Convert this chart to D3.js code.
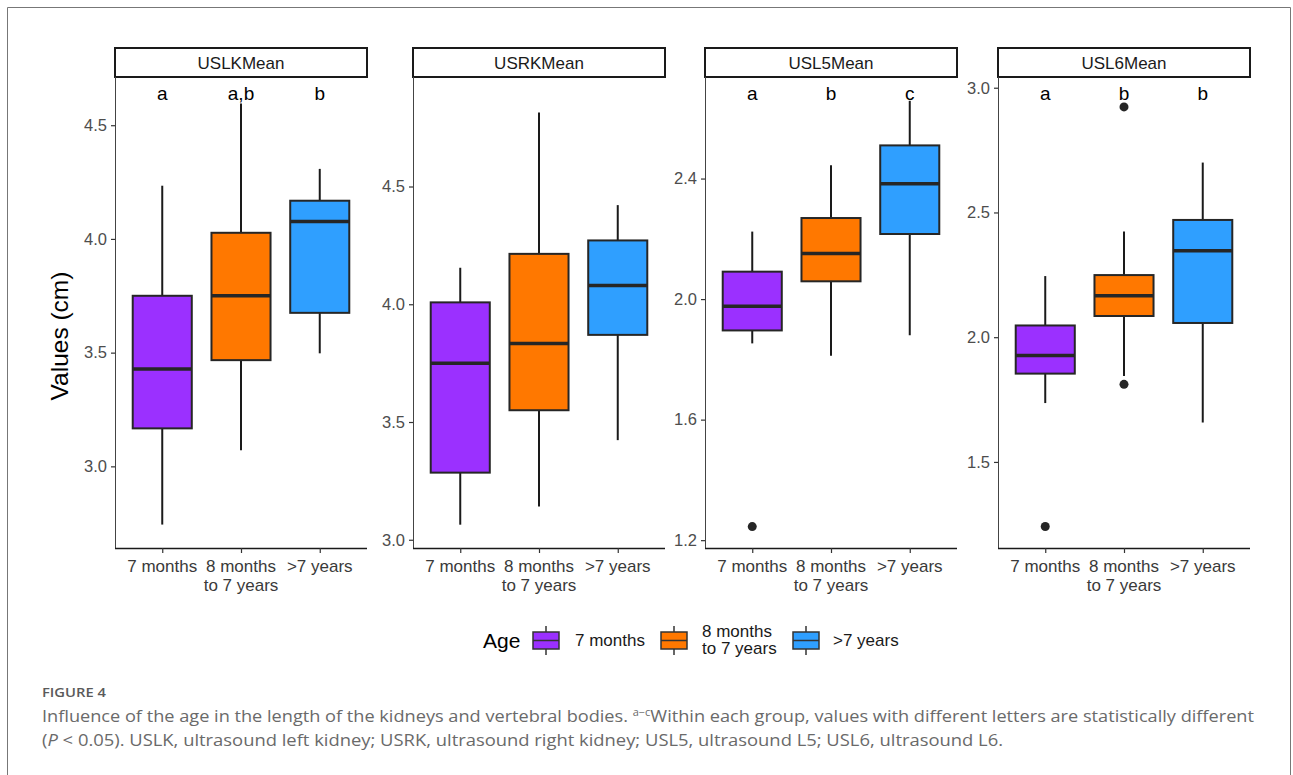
<html>
  <head>
    <meta charset="UTF-8" />
    <script src="https://d3js.org/d3.v7.min.js"></script>
    <style>
      body { margin: 0; background: white; }
    </style>
  </head>
  <body>
    <svg id="svg"></svg>
    <script>
      // groups and colours
      var groups = ["7 months", "8 months\nto 7 years", ">7 years"];
      var groupColors = ["#9b30ff", "#ff7800", "#2f9fff"];
      var legendLabels = ["7 months", "8 months\nto 7 years", ">7 years"];

      var panelNames = ["USLKMean", "USRKMean", "USL5Mean", "USL6Mean"];

      // y limits of each panel (bottom, top) and ticks
      var yLimits = [[2.641, 4.712], [2.965, 4.965], [1.174, 2.737], [1.155, 3.043]];
      var yTicks = [[3.0, 3.5, 4.0, 4.5], [3.0, 3.5, 4.0, 4.5], [1.2, 1.6, 2.0, 2.4], [1.5, 2.0, 2.5, 3.0]];

      // box stats per group: [lower whisker, q1, median, q3, upper whisker]
      var uslk = [[2.744, 3.167, 3.428, 3.75, 4.234], [3.071, 3.467, 3.75, 4.027, 4.596], [3.497, 3.675, 4.077, 4.168, 4.308]];
      var usrk = [[3.064, 3.285, 3.75, 4.008, 4.155], [3.141, 3.55, 3.833, 4.214, 4.814], [3.423, 3.87, 4.08, 4.271, 4.421]];
      var usl5 = [[1.853, 1.896, 1.976, 2.091, 2.224], [1.812, 2.059, 2.151, 2.269, 2.444], [1.88, 2.216, 2.383, 2.51, 2.658]];
      var usl6 = [[1.736, 1.854, 1.927, 2.047, 2.245], [1.844, 2.085, 2.166, 2.249, 2.424], [1.658, 2.057, 2.347, 2.47, 2.70]];
      var panelStats = [uslk, usrk, usl5, usl6];

      // outliers per panel, per group
      var panelOutliers = [
        [[], [], []],
        [[], [], []],
        [[1.245], [], []],
        [[1.241], [2.923, 1.811], []],
      ];

      // significance letters
      var panelLetters = [["a", "a,b", "b"], ["", "", ""], ["a", "b", "c"], ["a", "b", "b"]];

      var width = 1293, height = 775;
      var font = "'Liberation Sans', Arimo, Arial, sans-serif";
      var svg = d3.select("#svg").attr("width", width).attr("height", height)
        .style("font-family", font);

      // outer frame
      svg.append("path")
        .attr("d", "M7.5,780V7.5H1290.5V780")
        .attr("fill", "none").attr("stroke", "#777").attr("stroke-width", 1);

      var panelLeft = [115, 413, 705, 998],
        panelWidth = 252,
        plotTop = 77,
        plotBottom = 548,
        stripTop = 48;

      panelNames.forEach(function (name, p) {
        var x0 = panelLeft[p];
        var g = svg.append("g");

        var x = d3.scalePoint().domain(groups).range([x0, x0 + panelWidth]).padding(0.6);
        var y = d3.scaleLinear().domain(yLimits[p]).range([plotBottom, plotTop]);
        var bw = x.step() * 0.75;

        // strip
        g.append("rect")
          .attr("x", x0).attr("y", stripTop)
          .attr("width", panelWidth).attr("height", plotTop - stripTop)
          .attr("fill", "white").attr("stroke", "#1a1a1a").attr("stroke-width", 2);
        g.append("text")
          .attr("x", x0 + panelWidth / 2).attr("y", 68.5)
          .attr("text-anchor", "middle").style("font-size", "17px").attr("fill", "#1a1a1a")
          .text(name);

        // y axis
        var yAxis = g.append("g").attr("transform", "translate(" + x0 + ",0)")
          .call(d3.axisLeft(y).tickValues(yTicks[p]).tickFormat(d3.format(".1f")).tickSize(4).tickPadding(4));
        yAxis.select(".domain").attr("stroke", "#444").attr("d", "M0.5," + plotTop + "V" + (plotBottom + 0.5));
        yAxis.selectAll(".tick line").attr("stroke", "#333").attr("stroke-width", 1.2);
        yAxis.selectAll("text").style("font-size", "16.5px").attr("fill", "#4d4d4d").style("font-family", font);

        // x axis
        var xAxis = g.append("g").attr("transform", "translate(0," + plotBottom + ")")
          .call(d3.axisBottom(x).tickSize(5).tickFormat(""));
        xAxis.select(".domain").attr("stroke", "#1a1a1a").attr("stroke-width", 1.5)
          .attr("d", "M" + x0 + ",0.5H" + (x0 + panelWidth));
        xAxis.selectAll(".tick line").attr("stroke", "#333").attr("stroke-width", 1.2);
        groups.forEach(function (grp) {
          var lines = grp.split("\n");
          var t = g.append("text").attr("text-anchor", "middle")
            .style("font-size", "17px").attr("fill", "#3a3a3a");
          lines.forEach(function (ln, i) {
            t.append("tspan").attr("x", x(grp)).attr("y", 572 + i * 18.5).text(ln);
          });
        });

        // boxes
        panelStats[p].forEach(function (s, i) {
          var cx = x(groups[i]);
          g.append("line").attr("x1", cx).attr("x2", cx)
            .attr("y1", y(s[0])).attr("y2", y(s[1]))
            .attr("stroke", "#1a1a1a").attr("stroke-width", 2);
          g.append("line").attr("x1", cx).attr("x2", cx)
            .attr("y1", y(s[3])).attr("y2", y(s[4]))
            .attr("stroke", "#1a1a1a").attr("stroke-width", 2);
          g.append("rect")
            .attr("x", cx - bw / 2).attr("width", bw)
            .attr("y", y(s[3])).attr("height", y(s[1]) - y(s[3]))
            .attr("fill", groupColors[i]).attr("stroke", "#262626").attr("stroke-width", 2);
          g.append("line").attr("x1", cx - bw / 2).attr("x2", cx + bw / 2)
            .attr("y1", y(s[2])).attr("y2", y(s[2]))
            .attr("stroke", "#262626").attr("stroke-width", 3.5);
          panelOutliers[p][i].forEach(function (o) {
            g.append("circle").attr("cx", cx).attr("cy", y(o)).attr("r", 4.5).attr("fill", "#262626");
          });
          g.append("text").attr("x", cx).attr("y", 100)
            .attr("text-anchor", "middle").style("font-size", "19px").attr("fill", "black")
            .text(panelLetters[p][i]);
        });
      });

      // y title
      svg.append("text")
        .attr("transform", "translate(68,336) rotate(-90)")
        .attr("text-anchor", "middle").style("font-size", "24.5px").attr("fill", "black")
        .text("Values (cm)");

      // legend
      var legend = svg.append("g");
      legend.append("text").attr("x", 483).attr("y", 648)
        .style("font-size", "21px").attr("fill", "black").text("Age");
      var keyX = [533, 661, 793], textX = [575, 702, 833];
      legendLabels.forEach(function (lab, i) {
        var k = legend.append("g").attr("transform", "translate(" + keyX[i] + ",0)");
        k.append("line").attr("x1", 13).attr("x2", 13).attr("y1", 626).attr("y2", 655)
          .attr("stroke", "#333").attr("stroke-width", 1.5);
        k.append("rect").attr("x", 0).attr("y", 632).attr("width", 26).attr("height", 17)
          .attr("fill", groupColors[i]).attr("stroke", "#333").attr("stroke-width", 1.5);
        k.append("line").attr("x1", 0).attr("x2", 26).attr("y1", 640.5).attr("y2", 640.5)
          .attr("stroke", "#333").attr("stroke-width", 1.5);
        var lines = lab.split("\n");
        var t = legend.append("text").style("font-size", "17px").attr("fill", "#1a1a1a");
        lines.forEach(function (ln, j) {
          t.append("tspan").attr("x", textX[i])
            .attr("y", lines.length === 1 ? 646 : 637 + j * 17).text(ln);
        });
      });

      // caption
      var cap = svg.append("g").style("font-family", "'Open Sans', 'Noto Sans', sans-serif");
      cap.append("text").attr("x", 42).attr("y", 697)
        .style("font-size", "13px").style("font-weight", "600").attr("fill", "#5a5a5a")
        .attr("textLength", 64).attr("lengthAdjust", "spacingAndGlyphs")
        .text("FIGURE 4");
      var l1 = cap.append("text").attr("x", 42).attr("y", 722)
        .style("font-size", "16.5px").attr("fill", "#6a6a6a")
        .attr("textLength", 1212).attr("lengthAdjust", "spacingAndGlyphs");
      l1.append("tspan").text("Influence of the age in the length of the kidneys and vertebral bodies. ");
      l1.append("tspan").style("font-size", "10px").attr("dy", -6).text("a\u2212c");
      l1.append("tspan").attr("dy", 6).text("Within each group, values with different letters are statistically different");
      var l2 = cap.append("text").attr("x", 42).attr("y", 746)
        .style("font-size", "16.5px").attr("fill", "#6a6a6a")
        .attr("textLength", 961).attr("lengthAdjust", "spacingAndGlyphs");
      l2.append("tspan").text("(");
      l2.append("tspan").style("font-style", "italic").text("P");
      l2.append("tspan").text(" < 0.05). USLK, ultrasound left kidney; USRK, ultrasound right kidney; USL5, ultrasound L5; USL6, ultrasound L6.");
    </script>
  </body>
</html>
